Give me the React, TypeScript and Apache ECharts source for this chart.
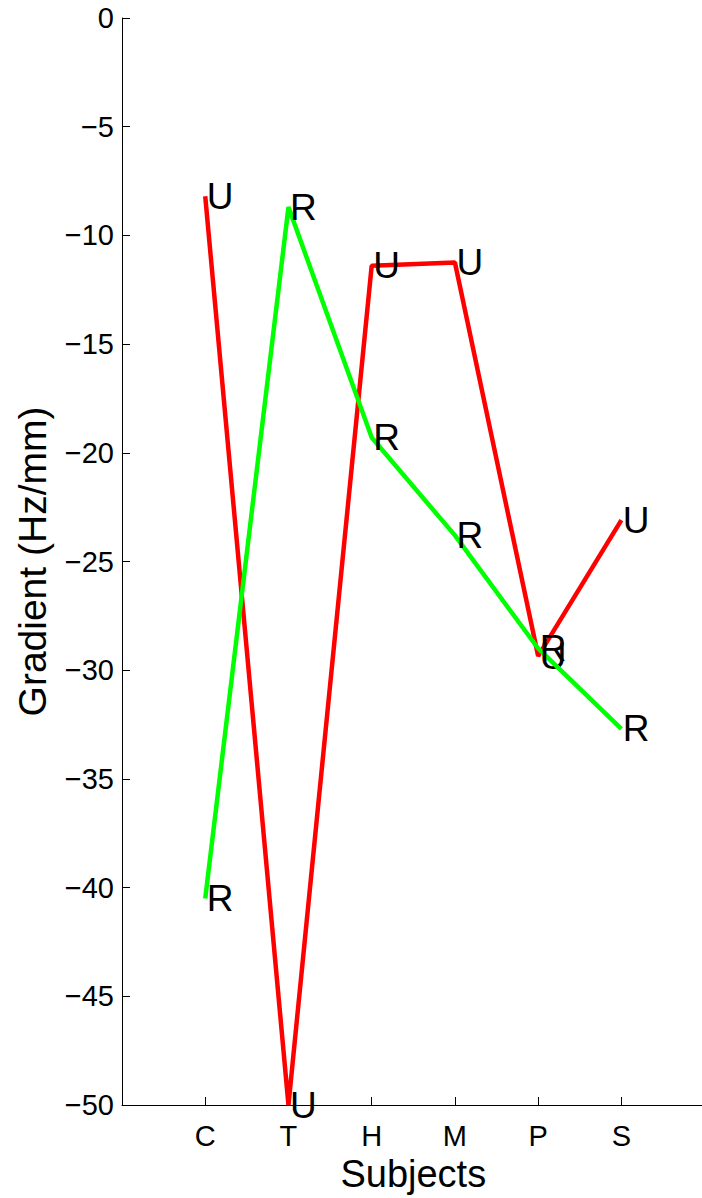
import React, { useEffect, useRef } from "react";
import * as echarts from "echarts";

const categories = ["", "C", "T", "H", "M", "P", "S", ""];
const seriesUName = "U";
const seriesRName = "R";
const uValues = [null, -8.2, -50, -11.4, -11.25, -29.35, -23.1, null];
const rValues = [null, -40.5, -8.7, -19.3, -23.8, -29.0, -32.7, null];
const yTicks = { min: -50, max: 0, interval: 5 };
const xName = "Subjects";
const yName = "Gradient (Hz/mm)";

const FONT = "Liberation Sans, Arial, Helvetica, sans-serif";

export default function App() {
  const ref = useRef<HTMLDivElement>(null);
  useEffect(() => {
    if (!ref.current) return;
    const chart = echarts.init(ref.current, null, { renderer: "svg" });
    const label = (txt: string) => ({
      show: true,
      position: "right",
      distance: 1,
      formatter: () => txt,
      color: "#000",
      opacity: 1,
      fontFamily: FONT,
      fontSize: 37,
    });
    chart.setOption({
      animation: false,
      backgroundColor: "#fff",
      grid: { left: 122, right: 5.4, top: 18, bottom: 92, containLabel: false },
      xAxis: {
        type: "category",
        data: categories,
        boundaryGap: false,
        name: xName,
        nameLocation: "middle",
        nameGap: 50,
        nameTextStyle: { color: "#000", fontFamily: FONT, fontSize: 38 },
        axisLine: { show: true, onZero: false, lineStyle: { color: "#000", width: 1 } },
        axisTick: {
          show: true,
          inside: true,
          length: 8,
          interval: (i: number, v: string) => v !== "",
          lineStyle: { color: "#000" },
        },
        axisLabel: {
          interval: 0,
          color: "#000",
          fontFamily: FONT,
          fontSize: 29,
          margin: 16,
        },
        splitLine: { show: false },
      },
      yAxis: {
        type: "value",
        min: yTicks.min,
        max: yTicks.max,
        interval: yTicks.interval,
        name: yName,
        nameLocation: "middle",
        nameGap: 70,
        nameRotate: 90,
        nameTextStyle: { color: "#000", fontFamily: FONT, fontSize: 39 },
        axisLine: { show: true, lineStyle: { color: "#000", width: 1 } },
        axisTick: { show: true, inside: true, length: 8, lineStyle: { color: "#000" } },
        axisLabel: {
          color: "#000",
          fontFamily: FONT,
          fontSize: 29,
          margin: 8,
          formatter: (v: number) => (v < 0 ? "\u2212" + String(-v) : String(v)),
        },
        splitLine: { show: false },
      },
      series: [
        {
          name: seriesUName,
          type: "line",
          data: uValues,
          symbol: "circle",
          symbolSize: 1,
          showSymbol: true,
          itemStyle: { color: "rgba(255,0,0,0)", borderWidth: 0 },
          lineStyle: { color: "#ff0000", width: 4.5 },
          label: label(seriesUName),
          labelLayout: { hideOverlap: false },
          z: 2,
        },
        {
          name: seriesRName,
          type: "line",
          data: rValues,
          symbol: "circle",
          symbolSize: 1,
          showSymbol: true,
          itemStyle: { color: "rgba(0,255,0,0)", borderWidth: 0 },
          lineStyle: { color: "#00ff00", width: 4.5 },
          label: label(seriesRName),
          labelLayout: { hideOverlap: false },
          z: 3,
        },
      ],
    });
    return () => chart.dispose();
  }, []);
  return (
    <div
      ref={ref}
      style={{ position: "fixed", left: 0, top: 0, width: 710, height: 1198, background: "#fff" }}
    />
  );
}
